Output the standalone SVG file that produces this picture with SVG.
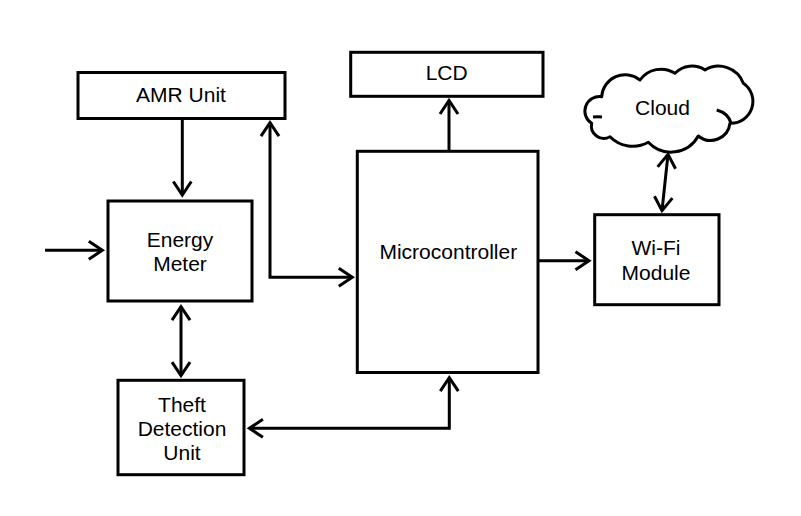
<svg xmlns="http://www.w3.org/2000/svg" width="801" height="516" viewBox="0 0 801 516">
<style>
.box{fill:#fff;stroke:#000;stroke-width:3}
.lbl{font-family:"Liberation Sans",Arial,sans-serif;font-size:21px;fill:#000;text-anchor:middle}
.con{fill:none;stroke:#000;stroke-width:3;marker-end:url(#ah)}
.bi{marker-start:url(#ah)}
</style>
<defs>
<marker id="ah" markerUnits="userSpaceOnUse" orient="auto-start-reverse" refX="0" refY="0" markerWidth="20" markerHeight="20" overflow="visible">
<path d="M-13.5,-9 L0,0 L-13.5,9" fill="none" stroke="#000" stroke-width="3"/>
</marker>
</defs>
<rect width="801" height="516" fill="#fff"/>
<g id="connectors">
<path class="con" d="M182.3,118 L182.3,195"/>
<path class="con" d="M45,250.3 L102.3,250.3"/>
<path class="con bi" d="M270,122.7 L270,277.3 L352.3,277.3"/>
<path class="con" d="M449,151.3 L449,100.5"/>
<path class="con" d="M538,260.7 L589,260.7"/>
<path class="con bi" d="M668,154.4 L662,210.6"/>
<path class="con bi" d="M181,306.7 L181,375.6"/>
<path class="con bi" d="M249.4,428.3 L449.3,428.3 L449.3,377.7"/>
</g>
<g id="amr">
<rect class="box" x="78" y="72.5" width="207" height="46"/>
<text class="lbl" x="181" y="101.7">AMR Unit</text>
</g>
<g id="energy-meter">
<rect class="box" x="108" y="201" width="144" height="100"/>
<text class="lbl" x="180" y="246.7">Energy</text>
<text class="lbl" x="180" y="270.7">Meter</text>
</g>
<g id="lcd">
<rect class="box" x="350.7" y="52.3" width="192.3" height="44"/>
<text class="lbl" x="446.7" y="80">LCD</text>
</g>
<g id="microcontroller">
<rect class="box" x="357.3" y="151.3" width="180.7" height="221.2"/>
<text class="lbl" x="448.3" y="259.3">Microcontroller</text>
</g>
<g id="cloud">
<path d="M591.7,123.3 A14.5,14.5 0 0 1 601.7,96.7 A23.5,23.5 0 0 1 640,80 A25.8,25.8 0 0 1 675,73.3 A23.5,23.5 0 0 1 705,70 A26.4,26.4 0 0 1 743.3,83.3 A21.9,21.9 0 0 1 730,123.3 A19.5,19.5 0 0 1 698.3,136 A31.2,31.2 0 0 1 648.3,142.3 A32,32 0 0 1 610,136.7 A12.4,12.4 0 0 1 591.7,123.3 Z" fill="#fff" stroke="#000" stroke-width="3" stroke-linejoin="round"/>
<path d="M716.7,110 Q728,113 731,123" fill="none" stroke="#000" stroke-width="3"/>
<path d="M593,117 Q598,116.5 602,117" fill="none" stroke="#000" stroke-width="3"/>
<text class="lbl" x="662.5" y="115">Cloud</text>
</g>
<g id="wifi">
<rect class="box" x="594.7" y="214.7" width="124.3" height="90"/>
<text class="lbl" x="656" y="255">Wi-Fi</text>
<text class="lbl" x="656" y="280">Module</text>
</g>
<g id="theft">
<rect class="box" x="118" y="380.3" width="126" height="94.4"/>
<text class="lbl" x="182" y="411.7">Theft</text>
<text class="lbl" x="182" y="436">Detection</text>
<text class="lbl" x="182" y="460">Unit</text>
</g>
</svg>
